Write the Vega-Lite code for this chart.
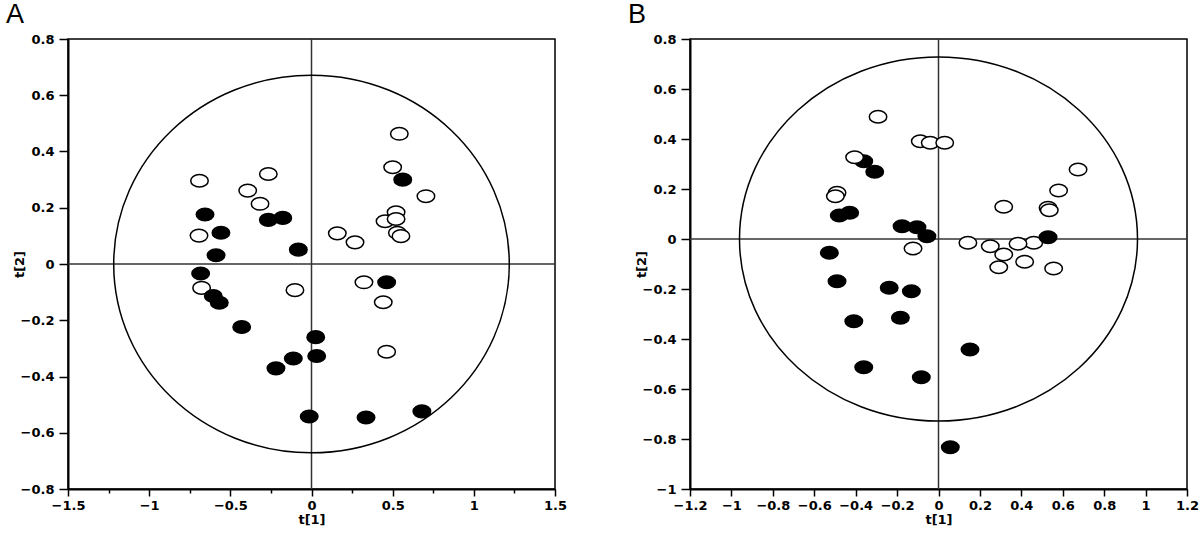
{
  "$schema": "https://vega.github.io/schema/vega-lite/v6.json",
  "padding": {"left": 5, "top": 0, "right": 0, "bottom": 0},
  "spacing": 59,
  "datasets": {
    "A": [
      {"x": -0.69, "y": 0.296, "g": "open"},
      {"x": -0.266, "y": 0.32, "g": "open"},
      {"x": -0.393, "y": 0.261, "g": "open"},
      {"x": -0.317, "y": 0.214, "g": "open"},
      {"x": -0.693, "y": 0.101, "g": "open"},
      {"x": 0.159, "y": 0.109, "g": "open"},
      {"x": 0.268, "y": 0.077, "g": "open"},
      {"x": -0.677, "y": -0.085, "g": "open"},
      {"x": -0.102, "y": -0.093, "g": "open"},
      {"x": 0.541, "y": 0.463, "g": "open"},
      {"x": 0.5, "y": 0.344, "g": "open"},
      {"x": 0.705, "y": 0.241, "g": "open"},
      {"x": 0.453, "y": 0.152, "g": "open"},
      {"x": 0.521, "y": 0.184, "g": "open"},
      {"x": 0.521, "y": 0.16, "g": "open"},
      {"x": 0.529, "y": 0.111, "g": "open"},
      {"x": 0.551, "y": 0.099, "g": "open"},
      {"x": 0.323, "y": -0.065, "g": "open"},
      {"x": 0.442, "y": -0.136, "g": "open"},
      {"x": 0.463, "y": -0.312, "g": "open"},
      {"x": -0.656, "y": 0.176, "g": "filled"},
      {"x": -0.558, "y": 0.111, "g": "filled"},
      {"x": -0.588, "y": 0.031, "g": "filled"},
      {"x": -0.177, "y": 0.164, "g": "filled"},
      {"x": -0.266, "y": 0.157, "g": "filled"},
      {"x": -0.081, "y": 0.051, "g": "filled"},
      {"x": -0.683, "y": -0.034, "g": "filled"},
      {"x": -0.605, "y": -0.114, "g": "filled"},
      {"x": -0.568, "y": -0.138, "g": "filled"},
      {"x": -0.43, "y": -0.224, "g": "filled"},
      {"x": 0.026, "y": -0.26, "g": "filled"},
      {"x": 0.032, "y": -0.327, "g": "filled"},
      {"x": -0.112, "y": -0.336, "g": "filled"},
      {"x": -0.219, "y": -0.371, "g": "filled"},
      {"x": -0.014, "y": -0.542, "g": "filled"},
      {"x": 0.336, "y": -0.546, "g": "filled"},
      {"x": 0.68, "y": -0.524, "g": "filled"},
      {"x": 0.562, "y": 0.3, "g": "filled"},
      {"x": 0.463, "y": -0.065, "g": "filled"}
    ],
    "B": [
      {"x": -0.361, "y": 0.311, "g": "filled"},
      {"x": -0.308, "y": 0.269, "g": "filled"},
      {"x": -0.429, "y": 0.105, "g": "filled"},
      {"x": -0.479, "y": 0.094, "g": "filled"},
      {"x": -0.176, "y": 0.051, "g": "filled"},
      {"x": -0.104, "y": 0.047, "g": "filled"},
      {"x": -0.056, "y": 0.011, "g": "filled"},
      {"x": -0.527, "y": -0.055, "g": "filled"},
      {"x": -0.49, "y": -0.169, "g": "filled"},
      {"x": -0.238, "y": -0.195, "g": "filled"},
      {"x": -0.131, "y": -0.209, "g": "filled"},
      {"x": -0.409, "y": -0.329, "g": "filled"},
      {"x": -0.184, "y": -0.315, "g": "filled"},
      {"x": -0.361, "y": -0.513, "g": "filled"},
      {"x": -0.083, "y": -0.553, "g": "filled"},
      {"x": 0.152, "y": -0.442, "g": "filled"},
      {"x": 0.057, "y": -0.833, "g": "filled"},
      {"x": -0.292, "y": 0.489, "g": "open"},
      {"x": -0.088, "y": 0.391, "g": "open"},
      {"x": -0.04, "y": 0.385, "g": "open"},
      {"x": 0.03, "y": 0.385, "g": "open"},
      {"x": -0.405, "y": 0.327, "g": "open"},
      {"x": -0.49, "y": 0.185, "g": "open"},
      {"x": -0.498, "y": 0.171, "g": "open"},
      {"x": -0.123, "y": -0.038, "g": "open"},
      {"x": 0.674, "y": 0.278, "g": "open"},
      {"x": 0.58, "y": 0.194, "g": "open"},
      {"x": 0.315, "y": 0.129, "g": "open"},
      {"x": 0.529, "y": 0.125, "g": "open"},
      {"x": 0.535, "y": 0.115, "g": "open"},
      {"x": 0.142, "y": -0.015, "g": "open"},
      {"x": 0.315, "y": -0.062, "g": "open"},
      {"x": 0.25, "y": -0.029, "g": "open"},
      {"x": 0.46, "y": -0.015, "g": "open"},
      {"x": 0.384, "y": -0.019, "g": "open"},
      {"x": 0.416, "y": -0.091, "g": "open"},
      {"x": 0.291, "y": -0.113, "g": "open"},
      {"x": 0.556, "y": -0.118, "g": "open"},
      {"x": 0.529, "y": 0.007, "g": "filled"}
    ]
  },
  "hconcat": [
    {
      "width": 487,
      "height": 450,
      "title": {"text": "A", "anchor": "start", "dx": -7, "fontSize": 27, "fontWeight": "normal", "font": "Liberation Sans", "color": "black", "offset": 4},
      "layer": [
        {
          "data": {"name": "A"},
          "mark": {"type": "point", "shape": "M 1 0 C 1 0.3977 0.5523 0.72 0 0.72 C -0.5523 0.72 -1 0.3977 -1 0 C -1 -0.3977 -0.5523 -0.72 0 -0.72 C 0.5523 -0.72 1 -0.3977 1 0 Z", "size": 0, "opacity": 0},
          "encoding": {
            "x": {"field": "x", "type": "quantitative", "scale": {"domain": [-1.5, 1.5], "nice": false, "zero": false},
              "axis": {"values": [-1.5, -1.25, -1, -0.75, -0.5, -0.25, 0, 0.25, 0.5, 0.75, 1, 1.25, 1.5], "format": "~g",
                "labelExpr": "abs(datum.value*2-round(datum.value*2))<0.001 ? datum.label : ''",
                "tickSize": {"condition": {"test": "abs(datum.value*2-round(datum.value*2))<0.001", "value": 7}, "value": 4},
                "title": "t[1]", "labelFlush": false, "labelOverlap": false, "labelPadding": 3, "titlePadding": 1}},
            "y": {"field": "y", "type": "quantitative", "scale": {"domain": [-0.8, 0.8], "nice": false, "zero": false},
              "axis": {"values": [-0.8, -0.7, -0.6, -0.5, -0.4, -0.3, -0.2, -0.1, 0, 0.1, 0.2, 0.3, 0.4, 0.5, 0.6, 0.7, 0.8], "format": "~g",
                "labelExpr": "abs(datum.value*5-round(datum.value*5))<0.001 ? datum.label : ''",
                "tickSize": {"condition": {"test": "abs(datum.value*5-round(datum.value*5))<0.001", "value": 9}, "value": 6},
                "title": "t[2]", "labelFlush": false, "labelOverlap": false, "labelPadding": 5, "titlePadding": -6}}
          }
        },
        {
          "data": {"values": [{}]},
          "mark": {"type": "rule", "color": "#333333", "strokeWidth": 1.5},
          "encoding": {"x": {"datum": 0, "type": "quantitative", "title": "t[1]", "scale": {"domain": [-1.5, 1.5], "nice": false, "zero": false}}}
        },
        {
          "data": {"values": [{}]},
          "mark": {"type": "rule", "color": "#333333", "strokeWidth": 1.5},
          "encoding": {"y": {"datum": 0, "type": "quantitative", "title": "t[2]", "scale": {"domain": [-0.8, 0.8], "nice": false, "zero": false}}}
        },
        {
          "data": {"values": [{}]},
          "mark": {"type": "point", "shape": "M 1 0 C 1 0.5272 0.5523 0.9545 0 0.9545 C -0.5523 0.9545 -1 0.5272 -1 0 C -1 -0.5272 -0.5523 -0.9545 0 -0.9545 C 0.5523 -0.9545 1 -0.5272 1 0 Z", "size": 156500, "filled": false, "stroke": "black", "strokeWidth": 1.5, "opacity": 1},
          "encoding": {
            "x": {"datum": 0, "type": "quantitative", "title": "t[1]", "scale": {"domain": [-1.5, 1.5], "nice": false, "zero": false}},
            "y": {"datum": 0, "type": "quantitative", "title": "t[2]", "scale": {"domain": [-0.8, 0.8], "nice": false, "zero": false}}
          }
        },
        {
          "data": {"name": "A"},
          "mark": {"type": "point", "shape": "M 1 0 C 1 0.3977 0.5523 0.72 0 0.72 C -0.5523 0.72 -1 0.3977 -1 0 C -1 -0.3977 -0.5523 -0.72 0 -0.72 C 0.5523 -0.72 1 -0.3977 1 0 Z", "size": 306, "filled": true, "stroke": "black", "strokeWidth": 1.5, "opacity": 1},
          "encoding": {
            "x": {"field": "x", "type": "quantitative", "title": "t[1]", "scale": {"domain": [-1.5, 1.5], "nice": false, "zero": false}},
            "y": {"field": "y", "type": "quantitative", "title": "t[2]", "scale": {"domain": [-0.8, 0.8], "nice": false, "zero": false}},
            "fill": {"field": "g", "type": "nominal", "scale": {"domain": ["filled", "open"], "range": ["black", "white"]}, "legend": null}
          }
        }
      ]
    },
    {
      "width": 497,
      "height": 450,
      "title": {"text": "B", "anchor": "start", "dx": -7, "fontSize": 27, "fontWeight": "normal", "font": "Liberation Sans", "color": "black", "offset": 4},
      "layer": [
        {
          "data": {"name": "B"},
          "mark": {"type": "point", "shape": "M 1 0 C 1 0.3977 0.5523 0.72 0 0.72 C -0.5523 0.72 -1 0.3977 -1 0 C -1 -0.3977 -0.5523 -0.72 0 -0.72 C 0.5523 -0.72 1 -0.3977 1 0 Z", "size": 0, "opacity": 0},
          "encoding": {
            "x": {"field": "x", "type": "quantitative", "scale": {"domain": [-1.2, 1.2], "nice": false, "zero": false},
              "axis": {"values": [-1.2, -1.1, -1, -0.9, -0.8, -0.7, -0.6, -0.5, -0.4, -0.3, -0.2, -0.1, 0, 0.1, 0.2, 0.3, 0.4, 0.5, 0.6, 0.7, 0.8, 0.9, 1, 1.1, 1.2], "format": "~g",
                "labelExpr": "abs(datum.value*5-round(datum.value*5))<0.001 ? datum.label : ''",
                "tickSize": {"condition": {"test": "abs(datum.value*5-round(datum.value*5))<0.001", "value": 7}, "value": 4},
                "title": "t[1]", "labelFlush": false, "labelOverlap": false, "labelPadding": 3, "titlePadding": 1}},
            "y": {"field": "y", "type": "quantitative", "scale": {"domain": [-1, 0.8], "nice": false, "zero": false},
              "axis": {"values": [-1, -0.9, -0.8, -0.7, -0.6, -0.5, -0.4, -0.3, -0.2, -0.1, 0, 0.1, 0.2, 0.3, 0.4, 0.5, 0.6, 0.7, 0.8], "format": "~g",
                "labelExpr": "abs(datum.value*5-round(datum.value*5))<0.001 ? datum.label : ''",
                "tickSize": {"condition": {"test": "abs(datum.value*5-round(datum.value*5))<0.001", "value": 9}, "value": 6},
                "title": "t[2]", "labelFlush": false, "labelOverlap": false, "labelPadding": 5, "titlePadding": -6}}
          }
        },
        {
          "data": {"values": [{}]},
          "mark": {"type": "rule", "color": "#333333", "strokeWidth": 1.5},
          "encoding": {"x": {"datum": 0, "type": "quantitative", "title": "t[1]", "scale": {"domain": [-1.2, 1.2], "nice": false, "zero": false}}}
        },
        {
          "data": {"values": [{}]},
          "mark": {"type": "rule", "color": "#333333", "strokeWidth": 1.5},
          "encoding": {"y": {"datum": 0, "type": "quantitative", "title": "t[2]", "scale": {"domain": [-1, 0.8], "nice": false, "zero": false}}}
        },
        {
          "data": {"values": [{}]},
          "mark": {"type": "point", "shape": "M 1 0 C 1 0.5054 0.5523 0.915 0 0.915 C -0.5523 0.915 -1 0.5054 -1 0 C -1 -0.5054 -0.5523 -0.915 0 -0.915 C 0.5523 -0.915 1 -0.5054 1 0 Z", "size": 158404, "filled": false, "stroke": "black", "strokeWidth": 1.5, "opacity": 1},
          "encoding": {
            "x": {"datum": 0, "type": "quantitative", "title": "t[1]", "scale": {"domain": [-1.2, 1.2], "nice": false, "zero": false}},
            "y": {"datum": 0, "type": "quantitative", "title": "t[2]", "scale": {"domain": [-1, 0.8], "nice": false, "zero": false}}
          }
        },
        {
          "data": {"name": "B"},
          "mark": {"type": "point", "shape": "M 1 0 C 1 0.3977 0.5523 0.72 0 0.72 C -0.5523 0.72 -1 0.3977 -1 0 C -1 -0.3977 -0.5523 -0.72 0 -0.72 C 0.5523 -0.72 1 -0.3977 1 0 Z", "size": 306, "filled": true, "stroke": "black", "strokeWidth": 1.5, "opacity": 1},
          "encoding": {
            "x": {"field": "x", "type": "quantitative", "title": "t[1]", "scale": {"domain": [-1.2, 1.2], "nice": false, "zero": false}},
            "y": {"field": "y", "type": "quantitative", "title": "t[2]", "scale": {"domain": [-1, 0.8], "nice": false, "zero": false}},
            "fill": {"field": "g", "type": "nominal", "scale": {"domain": ["filled", "open"], "range": ["black", "white"]}, "legend": null}
          }
        }
      ]
    }
  ],
  "config": {
    "view": {"stroke": "black", "strokeWidth": 1.5},
    "axis": {
      "grid": false,
      "domainColor": "black", "domainWidth": 2,
      "tickColor": "black", "tickWidth": 1.5,
      "labelFont": "DejaVu Sans", "labelFontWeight": "bold", "labelFontSize": 13, "labelColor": "black",
      "titleFont": "DejaVu Sans", "titleFontWeight": "bold", "titleFontSize": 13, "titleColor": "black"
    }
  }
}
